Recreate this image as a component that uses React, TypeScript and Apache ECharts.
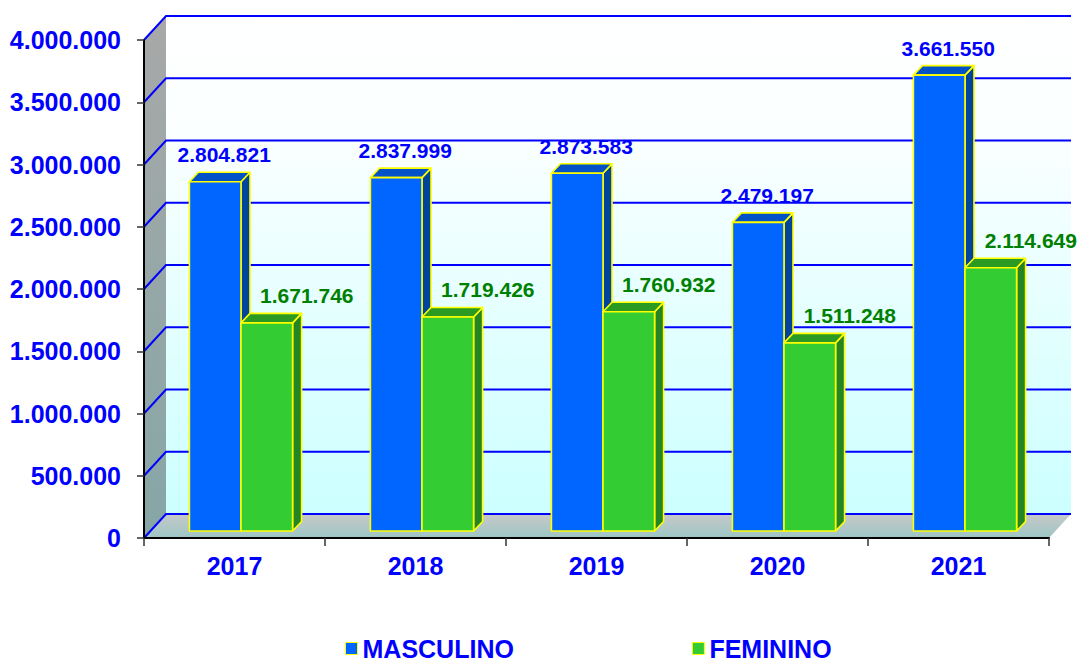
import React, { useEffect, useRef } from "react";
import * as echarts from "echarts";

const years = ["2017", "2018", "2019", "2020", "2021"];
const masculino = [2804821, 2837999, 2873583, 2479197, 3661550];
const feminino = [1671746, 1719426, 1760932, 1511248, 2114649];
const yTicks = [0, 500000, 1000000, 1500000, 2000000, 2500000, 3000000, 3500000, 4000000];
const seriesNames = ["MASCULINO", "FEMININO"];

const Y_MAX = 4000000;
const FONT = 'Arial, "Liberation Sans", sans-serif';
const BLUE_TEXT = "#0000FF";

const fmt = (v: number) => String(Math.round(v)).replace(/\B(?=(\d{3})+(?!\d))/g, ".");

// 3D geometry (pixels)
const WALL_DX = 22;
const WALL_DY = -24;
const BAR_OX = 6.5;
const BAR_OY = -7;
const BAR_DX = 9;
const BAR_DY = -9.5;
const BAR_FRAC = 0.285;

const palettes = [
  { front: "#0066FF", top: "#0052C6", side: "#00449C", label: BLUE_TEXT, labelShift: 9 },
  { front: "#33CC33", top: "#2A9A22", side: "#238523", label: "#008000", labelShift: 40 },
];

function renderWalls(params: any, api: any) {
  const cs = params.coordSys;
  const x0 = cs.x;
  const x1 = cs.x + cs.width;
  const yf = (v: number) => api.coord([0, v])[1];
  const yTop = yf(Y_MAX);
  const yBot = yf(0);
  const children: any[] = [];
  children.push({
    type: "rect",
    shape: { x: x0 + WALL_DX, y: yTop + WALL_DY, width: x1 - x0, height: yBot - yTop },
    style: {
      fill: new echarts.graphic.LinearGradient(0, 0, 0, 1, [
        { offset: 0, color: "#FFFFFF" },
        { offset: 0.25, color: "#FAFFFF" },
        { offset: 1, color: "#CCFFFF" },
      ]),
    },
  });
  children.push({
    type: "polygon",
    shape: {
      points: [
        [x0, yTop],
        [x0 + WALL_DX, yTop + WALL_DY],
        [x0 + WALL_DX, yBot + WALL_DY],
        [x0, yBot],
      ],
    },
    style: {
      fill: new echarts.graphic.LinearGradient(0, 0, 0, 1, [
        { offset: 0, color: "#A8A8A8" },
        { offset: 1, color: "#86A6A6" },
      ]),
    },
  });
  children.push({
    type: "polygon",
    shape: {
      points: [
        [x0, yBot],
        [x0 + WALL_DX, yBot + WALL_DY],
        [x1 + WALL_DX, yBot + WALL_DY],
        [x1, yBot],
      ],
    },
    style: {
      fill: new echarts.graphic.LinearGradient(0, 0, 0, 1, [
        { offset: 0, color: "#C8C8C8" },
        { offset: 1, color: "#9CC6C6" },
      ]),
    },
  });
  yTicks.forEach((t) => {
    const y = yf(t);
    children.push({
      type: "polyline",
      shape: {
        points: [
          [x0, y],
          [x0 + WALL_DX, y + WALL_DY],
          [x1 + WALL_DX, y + WALL_DY],
        ],
      },
      style: { stroke: "#0000FF", lineWidth: 2, fill: null },
    });
  });
  return { type: "group", children };
}

function makeBarRenderer(k: number) {
  const pal = palettes[k];
  return function (params: any, api: any) {
    const i = api.value(0);
    const v = api.value(1);
    const [cx, y0] = api.coord([i, 0]);
    const yv = api.coord([i, v])[1];
    const cw = api.size([1, 0])[0];
    const w = cw * BAR_FRAC;
    const center = cx + BAR_OX;
    const left = center - w + k * w;
    const top = yv + BAR_OY;
    const bot = y0 + BAR_OY;
    const stroke = { stroke: "#FFFF00", lineWidth: 1.6, lineJoin: "round" };
    return {
      type: "group",
      children: [
        {
          type: "polygon",
          shape: {
            points: [
              [left + w, top],
              [left + w + BAR_DX, top + BAR_DY],
              [left + w + BAR_DX, bot + BAR_DY],
              [left + w, bot],
            ],
          },
          style: { fill: pal.side, ...stroke },
        },
        {
          type: "polygon",
          shape: {
            points: [
              [left, top],
              [left + w, top],
              [left + w + BAR_DX, top + BAR_DY],
              [left + BAR_DX, top + BAR_DY],
            ],
          },
          style: { fill: pal.top, ...stroke },
        },
        {
          type: "rect",
          shape: { x: left, y: top, width: w, height: bot - top },
          style: { fill: pal.front, ...stroke },
        },
        {
          type: "text",
          z2: 100,
          style: {
            text: fmt(v),
            x: left + w / 2 + pal.labelShift,
            y: top - 27,
            fill: pal.label,
            font: `bold 21px ${FONT}`,
            textAlign: "center",
            textVerticalAlign: "middle",
            align: "center",
            verticalAlign: "middle",
          },
        },
      ],
    };
  };
}

export default function App() {
  const ref = useRef<HTMLDivElement>(null);
  useEffect(() => {
    if (!ref.current) return;
    const chart = echarts.init(ref.current, null, { renderer: "svg" });
    const option: any = {
      animation: false,
      backgroundColor: "#FFFFFF",
      grid: { left: 144, top: 40, right: 29, bottom: 125, containLabel: false },
      legend: {
        left: 345,
        top: 636,
        padding: 0,
        itemGap: 178,
        itemWidth: 12,
        itemHeight: 12,
        icon: "rect",
        selectedMode: false,
        textStyle: { fontSize: 25, fontWeight: "bold", color: BLUE_TEXT, fontFamily: FONT },
        data: seriesNames.map((n, k) => ({
          name: n,
          itemStyle: { color: palettes[k].front, borderColor: "#FFFF00", borderWidth: 1 },
        })),
      },
      xAxis: {
        type: "category",
        data: years,
        z: 10,
        axisLine: { lineStyle: { color: "#000000", width: 2 } },
        axisTick: { show: true, length: 8, lineStyle: { color: "#333333", width: 1.5 } },
        axisLabel: {
          fontSize: 25,
          fontWeight: "bold",
          color: BLUE_TEXT,
          fontFamily: FONT,
          margin: 15,
        },
        splitLine: { show: false },
      },
      yAxis: {
        type: "value",
        min: 0,
        max: Y_MAX,
        interval: 500000,
        z: 10,
        axisLine: { show: true, lineStyle: { color: "#000000", width: 2 } },
        axisTick: { show: true, length: 7, lineStyle: { color: "#333333", width: 1.5 } },
        axisLabel: {
          fontSize: 25,
          fontWeight: "bold",
          color: BLUE_TEXT,
          fontFamily: FONT,
          margin: 23,
          formatter: (v: number) => fmt(v),
        },
        splitLine: { show: false },
      },
      series: [
        {
          type: "custom",
          name: "walls",
          silent: true,
          z: 1,
          renderItem: renderWalls,
          data: [[0, 0]],
          encode: { x: 0, y: 1 },
        },
        ...[masculino, feminino].map((vals, k) => ({
          type: "custom",
          name: seriesNames[k],
          z: 2 + k,
          itemStyle: { color: palettes[k].front },
          renderItem: makeBarRenderer(k),
          data: vals.map((v, i) => [i, v]),
          encode: { x: 0, y: 1 },
        })),
      ],
    };
    chart.setOption(option);
    return () => chart.dispose();
  }, []);
  return (
    <div
      ref={ref}
      style={{ position: "fixed", left: 0, top: 0, width: 1078, height: 663 }}
    />
  );
}
